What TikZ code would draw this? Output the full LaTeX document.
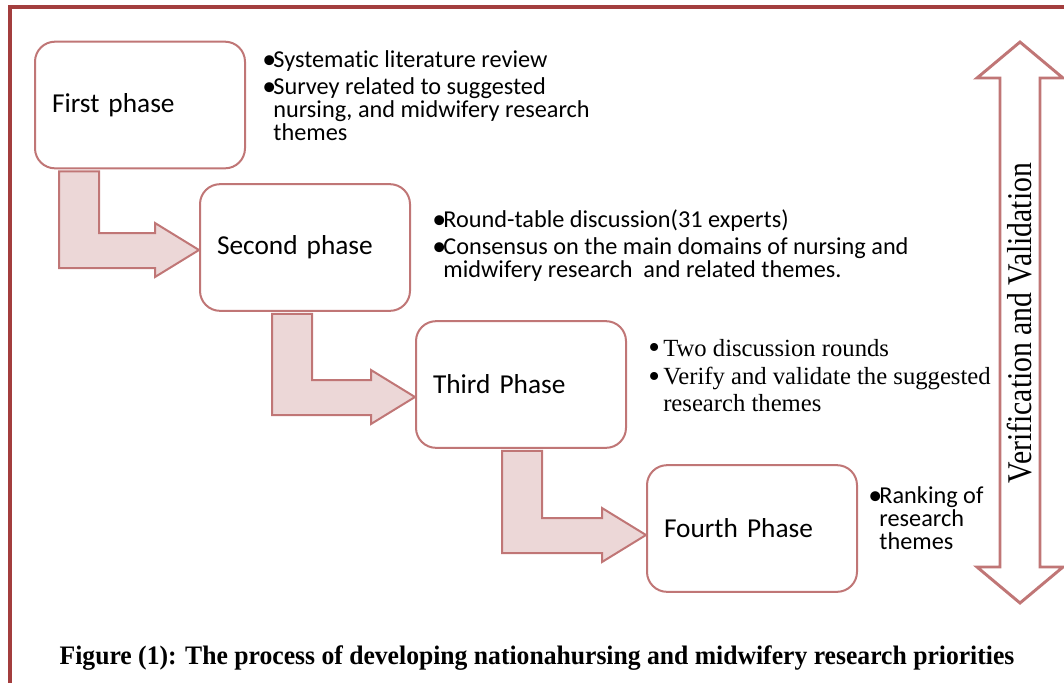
\documentclass[tikz,border=0pt]{standalone}
\usepackage{graphicx}
\usepackage{fontspec}
\setmainfont{Carlito}[Ligatures=NoCommon]
\newfontfamily\timesfont{Liberation Serif}
\usetikzlibrary{calc}

\definecolor{framered}{RGB}{163,62,62}
\definecolor{phaseedge}{RGB}{192,118,118}
\definecolor{phasefill}{RGB}{236,215,215}

\newcommand{\pxu}{0.75pt}
\newcommand{\bl}{\makebox[0.46em][l]{\raisebox{-0.05em}{\scalebox{1.15}{\textbullet}}}}
\newcommand{\ind}{\hspace*{0.46em}}
\newcommand{\tbl}{\makebox[11.25pt][l]{\raisebox{-0.1em}{\scalebox{1.35}{\textbullet}}}}

% bent block arrow: from node, to node, shaft offset, tip drop (px)
\newcommand{\bentarrow}[4]{%
  \draw[phasearrow] let \p1=(#1.south west), \p2=(#2.west) in
    (\x1+#3*\pxu, \y1-2*\pxu) -- (\x1+#3*\pxu+40*\pxu, \y1-2*\pxu)
    -- (\x1+#3*\pxu+40*\pxu, \y2-#4*\pxu+17*\pxu) -- (\x2-44*\pxu, \y2-#4*\pxu+17*\pxu)
    -- (\x2-44*\pxu, \y2-#4*\pxu+27*\pxu) -- (\x2, \y2-#4*\pxu)
    -- (\x2-44*\pxu, \y2-#4*\pxu-27*\pxu) -- (\x2-44*\pxu, \y2-#4*\pxu-18*\pxu)
    -- (\x1+#3*\pxu, \y2-#4*\pxu-18*\pxu) -- cycle;}

\tikzset{
  phase/.style={draw=phaseedge, line width=1.5pt, rounded corners=15pt, fill=white,
    minimum width=157.5pt, minimum height=95pt, text width=132pt, inner xsep=12.75pt,
    align=left, font=\fontsize{20.5pt}{24pt}\selectfont},
  bullets/.style={anchor=north west, inner sep=0pt, align=left,
    font=\fontsize{18.2pt}{17.25pt}\selectfont},
  phasearrow/.style={draw=phaseedge, fill=phasefill, line width=1.5pt, line join=miter},
  frame/.style={draw=framered, line width=2.6pt}
}

\begin{document}
\begin{tikzpicture}[x=0.75pt, y=-0.75pt]
  \useasboundingbox (0,0) rectangle (1064,683);
  \draw[frame] (1064,7) -- (10,7) -- (10,683);

  \node (P1) [phase] at (140,105) {First phase};
  \node (P2) [phase] at (305,247.5) {Second phase};
  \node (P3) [phase] at (521,384.5) {Third Phase};
  \node (P4) [phase] at (752,528.5) {Fourth Phase};

  \bentarrow{P1}{P2}{25}{2.5}
  \bentarrow{P2}{P3}{73}{12.5}
  \bentarrow{P3}{P4}{87}{6.5}

  \node (B1) [bullets] at (262,50) {\bl Systematic literature review\\[3pt]
    \bl Survey related to suggested\\ \ind nursing, and midwifery research\\ \ind themes};
  \node (B2) [bullets] at (432,209) {\bl Round-table discussion(31 experts)\\[3pt]
    \bl Consensus on the main domains of nursing and\\ \ind midwifery research\ \ and related themes.};
  \node (B3) [bullets, font=\timesfont\fontsize{18.5pt}{20.25pt}\selectfont] at (648,339)
    {\tbl Two discussion rounds\\[1pt]
    \tbl Verify and validate the suggested\\ \hspace*{11.25pt}research themes};
  \node (B4) [bullets] at (868,486) {\bl Ranking of\\ \ind research\\ \ind themes};

  \draw[draw=phaseedge, fill=white, line width=2.2pt, line join=miter]
    (1000,78) -- (977,78) -- (1020,42) -- (1063,78) -- (1040,78) -- (1040,567)
    -- (1063,567) -- (1020,603) -- (977,567) -- (1000,567) -- cycle;
  \node (VV) [rotate=90, inner sep=0pt, font=\timesfont] at (1020,323)
    {\resizebox{240pt}{\height}{\fontsize{26pt}{28pt}\selectfont Verification and Validation}};

  \node (CAP) [inner sep=0pt, font=\timesfont\bfseries] at (537,658)
    {\resizebox{716pt}{\height}{\fontsize{20pt}{22pt}\selectfont Figure (1): The process of developing nationahursing and midwifery research priorities}};
\end{tikzpicture}
\end{document}
